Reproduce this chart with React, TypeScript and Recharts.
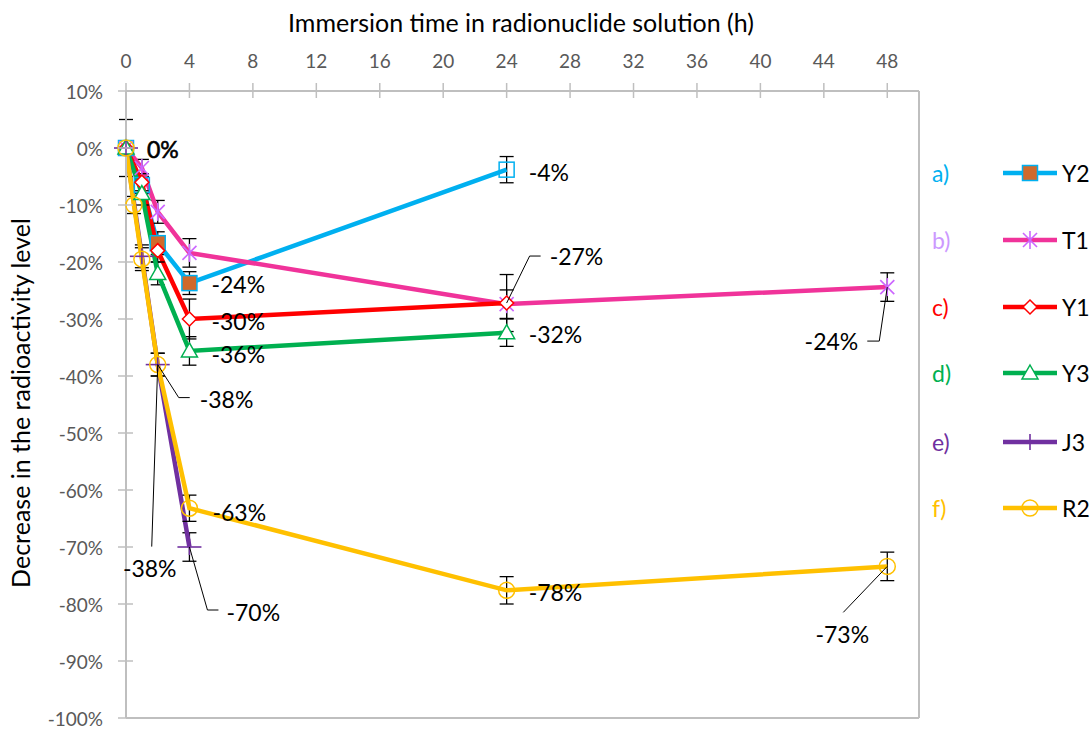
import React from 'react';
import { LineChart, Line, XAxis, YAxis, ErrorBar, ReferenceLine, LabelList, Label } from 'recharts';

// ---------------- data ----------------
const xTicks = [0, 4, 8, 12, 16, 20, 24, 28, 32, 36, 40, 44, 48];
const yTicks = [10, 0, -10, -20, -30, -40, -50, -60, -70, -80, -90, -100];

const seriesNames = ['Y2', 'T1', 'Y1', 'Y3', 'J3', 'R2'];
const seriesLetters = ['a)', 'b)', 'c)', 'd)', 'e)', 'f)'];

const y2Times = [0, 1, 2, 4, 24];
const y2Values = [0, -6.5, -16.7, -23.7, -3.8];
const y2Errors = [5, 1.5, 2, 2, 2.3];

const t1Times = [0, 1, 2, 4, 24, 48];
const t1Values = [0, -3.5, -11.2, -18.4, -27.4, -24.4];
const t1Errors = [0, 1.5, 2, 2.5, 2.5, 2.5];

const y1Times = [0, 1, 2, 4, 24];
const y1Values = [0, -6, -18, -30, -27.2];
const y1Errors = [0, 1.5, 2, 3.5, 5];

const y3Times = [0, 1, 2, 4, 24];
const y3Values = [0, -8, -22, -35.6, -32.4];
const y3Errors = [0, 2, 2, 2.5, 2.4];

const j3Times = [0, 1, 2, 4];
const j3Values = [0, -19, -38, -70];
const j3Errors = [0, 2, 2, 2.5];

const r2Times = [0, 0.5, 1, 2, 4, 24, 48];
const r2Values = [0, -10, -19.5, -38, -63.2, -77.6, -73.4];
const r2Errors = [0, 1.5, 2, 2, 2.3, 2.4, 2.5];

const mk = (t: number[], v: number[], e: number[]) => t.map((x, i) => ({ t: x, v: v[i], e: e[i] }));

// ---------------- styles ----------------
const FONT = 'Lato, "Open Sans", sans-serif';
const AXIS_GRAY = '#BFBFBF';
const TICK_TEXT = '#595959';
const W = 1091;
const H = 731;
const PLOT_LEFT = 126;
const PLOT_TOP = 91;
const PLOT_RIGHT = 919;
const PLOT_BOTTOM = 718;

const colors = {
  Y2: '#00B0F0',
  T1: '#F0339A',
  Y1: '#FF0000',
  Y3: '#00B050',
  J3: '#7030A0',
  R2: '#FFC000',
};
const letterColors = ['#00B0F0', '#CC99FF', '#FF0000', '#00B050', '#7030A0', '#FFC000'];
const y2FilledIdx = [2, 3];

type Shape = 'square' | 'star' | 'diamond' | 'triangle' | 'plus' | 'circle';

const drawMarker = (shape: Shape, cx: number, cy: number, key: any, filled = false) => {
  switch (shape) {
    case 'square':
      return (
        <rect key={key} x={cx - 7.5} y={cy - 7.5} width={15} height={15}
          fill={filled ? '#D0692B' : 'none'} stroke="#00B0F0" strokeWidth={1.5} />
      );
    case 'star':
      return (
        <g key={key} stroke="#CC66FF" strokeWidth={1.6}>
          <line x1={cx - 7} y1={cy - 7} x2={cx + 7} y2={cy + 7} />
          <line x1={cx - 7} y1={cy + 7} x2={cx + 7} y2={cy - 7} />
          <line x1={cx} y1={cy - 9} x2={cx} y2={cy + 9} />
        </g>
      );
    case 'diamond':
      return (
        <polygon key={key} points={`${cx},${cy - 7} ${cx + 7},${cy} ${cx},${cy + 7} ${cx - 7},${cy}`}
          fill="#fff" stroke="#FF0000" strokeWidth={1.5} />
      );
    case 'triangle':
      return (
        <polygon key={key} points={`${cx},${cy - 8} ${cx + 8},${cy + 6} ${cx - 8},${cy + 6}`}
          fill="#fff" stroke="#00B050" strokeWidth={1.5} />
      );
    case 'plus':
      return (
        <g key={key} stroke="#7030A0" strokeWidth={1.6}>
          <line x1={cx - 12} y1={cy} x2={cx + 12} y2={cy} />
          <line x1={cx} y1={cy - 8} x2={cx} y2={cy + 8} />
        </g>
      );
    case 'circle':
    default:
      return <circle key={key} cx={cx} cy={cy} r={8} fill="none" stroke="#FFC000" strokeWidth={1.5} />;
  }
};

const dotRenderer = (shape: Shape, filledIdx: number[] = []) => (props: any) => {
  const { cx, cy, index } = props;
  if (cx == null || cy == null) return <g key={`d-${shape}-${index}`} />;
  return drawMarker(shape, cx, cy, `d-${shape}-${index}`, filledIdx.includes(index));
};

// label placements (relative offsets from the point)
type LabelCfg = { i: number; dx: number; dy: number; anchor?: 'start' | 'middle' | 'end'; leader?: [number, number][]; heavy?: boolean };

const y2Labels: LabelCfg[] = [
  { i: 0, dx: 21, dy: 1, heavy: true },
  { i: 3, dx: 22, dy: 1 },
  { i: 4, dx: 22, dy: 2 },
];
const t1Labels: LabelCfg[] = [
  { i: 5, dx: -29, dy: 54, anchor: 'end', leader: [[-8, 54], [-20, 54]] },
];
const y1Labels: LabelCfg[] = [
  { i: 3, dx: 22, dy: 2 },
  { i: 4, dx: 43, dy: -47, leader: [[23, -47], [34, -47]] },
];
const y3Labels: LabelCfg[] = [
  { i: 3, dx: 22, dy: 3 },
  { i: 4, dx: 22, dy: 1 },
];
const j3Labels: LabelCfg[] = [
  { i: 2, dx: -8, dy: 203, anchor: 'middle', leader: [[-6, 182]] },
  { i: 3, dx: 37, dy: 65, leader: [[18, 63], [29, 63]] },
];
const r2Labels: LabelCfg[] = [
  { i: 3, dx: 42, dy: 34, leader: [[21, 33], [32, 33]] },
  { i: 4, dx: 23, dy: 4 },
  { i: 5, dx: 22, dy: 2 },
  { i: 6, dx: -45, dy: 68, anchor: 'middle', leader: [[-44, 46]] },
];

const labelRenderer = (cfgs: LabelCfg[]) => (props: any) => {
  const { x, y, value, index } = props;
  const cfg = cfgs.find((c) => c.i === index);
  if (!cfg || x == null || y == null) return null;
  const txt = `${Math.round(Number(value))}%`;
  const pts = cfg.leader ? [[0, 0], ...cfg.leader] : null;
  return (
    <g key={`lbl-${index}-${x}`}>
      {pts && (
        <polyline
          points={pts.map(([a, b]) => `${x + a},${y + b}`).join(' ')}
          fill="none" stroke="#000" strokeWidth={1}
        />
      )}
      <text x={x + cfg.dx} y={y + cfg.dy} textAnchor={cfg.anchor || 'start'} dominantBaseline="central"
        fontFamily={FONT} fontSize={23} fill="#000"
        stroke={cfg.heavy ? '#000' : 'none'} strokeWidth={cfg.heavy ? 0.6 : 0}>
        {txt}
      </text>
    </g>
  );
};

const XTick = (props: any) => {
  const { x, payload } = props;
  return (
    <g>
      <line x1={x} x2={x} y1={PLOT_TOP - 8} y2={PLOT_TOP + 7} stroke={AXIS_GRAY} strokeWidth={1.5} />
      <text x={x} y={60} textAnchor="middle" dominantBaseline="central" fontFamily={FONT} fontSize={19} fill={TICK_TEXT}>
        {payload.value}
      </text>
    </g>
  );
};

const YTick = (props: any) => {
  const { y, payload } = props;
  return (
    <g>
      <line x1={PLOT_LEFT - 8} x2={PLOT_LEFT + 7} y1={y} y2={y} stroke={AXIS_GRAY} strokeWidth={1.5} />
      <text x={103} y={y} textAnchor="end" dominantBaseline="central" fontFamily={FONT} fontSize={19} fill={TICK_TEXT}>
        {`${payload.value}%`}
      </text>
    </g>
  );
};

const series = [
  { name: 'Y2', data: mk(y2Times, y2Values, y2Errors), color: colors.Y2, shape: 'square' as Shape, labels: y2Labels, filled: y2FilledIdx },
  { name: 'T1', data: mk(t1Times, t1Values, t1Errors), color: colors.T1, shape: 'star' as Shape, labels: t1Labels, filled: [] },
  { name: 'Y1', data: mk(y1Times, y1Values, y1Errors), color: colors.Y1, shape: 'diamond' as Shape, labels: y1Labels, filled: [] },
  { name: 'Y3', data: mk(y3Times, y3Values, y3Errors), color: colors.Y3, shape: 'triangle' as Shape, labels: y3Labels, filled: [] },
  { name: 'J3', data: mk(j3Times, j3Values, j3Errors), color: colors.J3, shape: 'plus' as Shape, labels: j3Labels, filled: [] },
  { name: 'R2', data: mk(r2Times, r2Values, r2Errors), color: colors.R2, shape: 'circle' as Shape, labels: r2Labels, filled: [] },
];

const legendY = [173, 240, 307, 373, 442, 508];

export default function App() {
  return (
    <div style={{ position: 'absolute', left: 0, top: 0, width: W, height: H, background: '#fff', overflow: 'hidden' }}>
      <LineChart
        width={W}
        height={H}
        margin={{ top: 0, right: W - PLOT_RIGHT, bottom: H - PLOT_BOTTOM, left: 0 }}
      >
        <XAxis
          dataKey="t"
          type="number"
          orientation="top"
          domain={[0, 50]}
          ticks={xTicks}
          allowDuplicatedCategory={false}
          height={PLOT_TOP}
          axisLine={{ stroke: AXIS_GRAY, strokeWidth: 2 }}
          tickLine={false}
          tick={<XTick />}
          interval={0}
        >
          <Label
            content={() => (
              <text x={521} y={22} textAnchor="middle" dominantBaseline="central" fontFamily={FONT} fontSize={25} fill="#000">
                Immersion time in radionuclide solution (h)
              </text>
            )}
          />
        </XAxis>
        <YAxis
          type="number"
          domain={[-100, 10]}
          ticks={yTicks}
          width={PLOT_LEFT}
          axisLine={{ stroke: AXIS_GRAY, strokeWidth: 2 }}
          tickLine={false}
          tick={<YTick />}
          interval={0}
        >
          <Label
            content={() => (
              <text x={20} y={403} transform={`rotate(-90 20 403)`} textAnchor="middle" dominantBaseline="central"
                fontFamily={FONT} fontSize={25} fill="#000">
                Decrease in the radioactivity level
              </text>
            )}
          />
        </YAxis>
        <ReferenceLine x={50} stroke={AXIS_GRAY} strokeWidth={2} />
        <ReferenceLine y={-100} stroke={AXIS_GRAY} strokeWidth={2} />
        {series.map((s) => (
          <Line
            key={s.name}
            data={s.data}
            dataKey="v"
            name={s.name}
            type="linear"
            stroke={s.color}
            strokeWidth={4.5}
            dot={dotRenderer(s.shape, s.filled)}
            activeDot={false}
            isAnimationActive={false}
          >
            <ErrorBar dataKey="e" direction="y" width={7} stroke="#000" strokeWidth={1.3} />
            <LabelList dataKey="v" content={labelRenderer(s.labels)} />
          </Line>
        ))}
      </LineChart>
      <svg width={W} height={H} style={{ position: 'absolute', left: 0, top: 0, pointerEvents: 'none' }}>
        {series.map((s, i) => (
          <g key={`leg-${s.name}`}>
            <text x={932} y={legendY[i]} dominantBaseline="central" fontFamily={FONT} fontSize={23} fill={letterColors[i]}>
              {seriesLetters[i]}
            </text>
            <line x1={1003} x2={1057} y1={legendY[i]} y2={legendY[i]} stroke={s.color} strokeWidth={4.5} />
            {drawMarker(s.shape, 1030, legendY[i], `lm-${i}`, i === 0)}
            <text x={1062} y={legendY[i]} dominantBaseline="central" fontFamily={FONT} fontSize={23} fill="#000">
              {seriesNames[i]}
            </text>
          </g>
        ))}
      </svg>
    </div>
  );
}
